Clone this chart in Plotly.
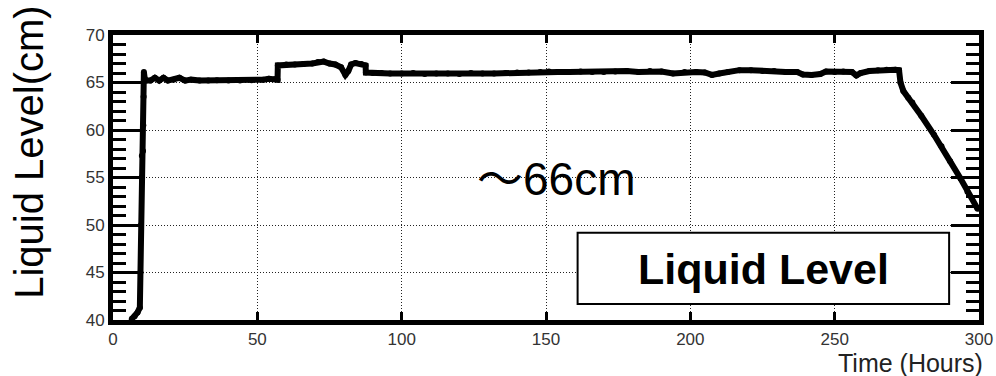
import plotly.graph_objects as go

# ---- data ----
hours = [6.5, 7.5, 8.5, 9.3, 9.5, 9.7, 9.9, 10.0, 10.4, 10.5, 10.6, 10.7, 11.0, 11.5,
         13, 14.5, 16, 17.5, 19, 21, 23, 25, 27, 30, 33, 36, 40, 44, 48, 52, 54, 56, 57.0,
         57.1, 60, 63, 66, 69, 71, 73, 75, 77, 79, 80.5, 81.5, 82.5, 84, 86, 87.5,
         87.6, 90, 93, 96, 100, 104, 108, 112, 116, 120, 124, 128, 132, 136, 140, 144,
         148, 151, 154, 158, 162, 166, 170, 174, 178, 182, 186, 190, 194, 198, 202, 205,
         207.5, 210, 213, 217, 221, 225, 229, 233, 237, 239, 242, 245, 247, 250, 253, 256,
         257.5, 259, 262, 265, 268, 271, 272.3,
         272.8, 273.8, 275.5, 276.9, 280, 284.4, 287, 290, 293.6, 296, 299.5]
level = [40.1, 40.4, 40.8, 41.3, 45, 50, 55, 57.3, 57.8, 60.5, 63.5, 66.1, 65.4, 65.2,
         65.2, 65.5, 65.2, 65.5, 65.2, 65.3, 65.5, 65.2, 65.3, 65.2, 65.2, 65.25, 65.2, 65.2,
         65.25, 65.3, 65.4, 65.35, 65.3,
         66.8, 66.9, 66.9, 66.95, 67.0, 67.15, 67.2, 67.0, 66.9, 66.6, 65.8, 66.2, 66.9,
         67.05, 66.95, 66.8,
         66.05, 66.0, 66.0, 65.95, 65.95, 66.0, 65.9, 65.95, 65.95, 65.9, 66.0, 65.95, 65.95,
         66.0, 66.05, 66.05, 66.1, 66.15, 66.1, 66.1, 66.15, 66.1, 66.1, 66.15, 66.2, 66.1,
         66.2, 66.15, 65.95, 66.1, 66.1, 66.05, 65.8, 65.95, 66.1, 66.3, 66.3, 66.2, 66.2,
         66.1, 66.1, 65.85, 65.8, 65.9, 66.15, 66.1, 66.15, 66.1, 65.75, 66.0, 66.2, 66.3,
         66.35, 66.35, 66.3,
         65.0, 64.1, 63.4, 62.9, 61.5, 59.5, 58.3, 56.7, 54.9, 53.5, 51.7]

x_range = [0, 300]
y_range = [40, 70]
x_title = "Time (Hours)"
y_title = "Liquid Level(cm)"
legend_label = "Liquid Level"
note_text = "～66cm"

FONT = "Liberation Sans, Arial, Helvetica, sans-serif"
TICK = "black"

fig = go.Figure()
fig.add_trace(go.Scatter(
    x=hours, y=level, mode="lines+markers",
    line=dict(color="black", width=6),
    marker=dict(color="black", size=6),
    showlegend=False, hoverinfo="skip"))

grid = dict(showgrid=True, gridcolor="#222", gridwidth=1, griddash="1px,2px")

fig.update_layout(
    template="none",
    width=996, height=376,
    margin=dict(l=113, r=17, t=35, b=56),
    paper_bgcolor="white", plot_bgcolor="white",
    font=dict(family=FONT, color="black"),
    xaxis=dict(range=x_range, tickmode="linear", tick0=0, dtick=50, ticks="inside",
               ticklen=8, tickwidth=3, tickcolor=TICK, mirror="ticks",
               showline=True, linewidth=5, linecolor="black", layer="above traces",
               zeroline=False, tickfont=dict(size=17, color="#333"), **grid),
    yaxis=dict(range=y_range, tickmode="linear", tick0=40, dtick=5, ticks="inside",
               ticklen=28, tickwidth=3, tickcolor=TICK, mirror="ticks",
               showline=True, linewidth=5, linecolor="black", layer="above traces",
               zeroline=False, tickfont=dict(size=17, color="#333"),
               minor=dict(ticks="inside", dtick=1, ticklen=13, tickwidth=3,
                          tickcolor=TICK, showgrid=False),
               **grid),
    shapes=[
        # legend box
        dict(type="rect", xref="paper", yref="paper", x0=0.5365, x1=0.9655,
             y0=0.0562, y1=0.3063, line=dict(color="black", width=2),
             fillcolor="white", layer="above"),
    ],
    annotations=[
        dict(text=legend_label, xref="paper", yref="paper", x=0.751, y=0.178,
             xanchor="center", yanchor="middle", showarrow=False,
             font=dict(size=43, family=FONT, color="black", weight="bold")),
        dict(text=note_text, xref="paper", yref="paper", x=0.512, y=0.495,
             xanchor="center", yanchor="middle", showarrow=False,
             font=dict(size=46, family="Liberation Sans, Noto Sans CJK JP, sans-serif",
                       color="black")),
        dict(text=y_title, xref="paper", yref="paper", x=-0.097, y=0.59,
             xanchor="center", yanchor="middle", textangle=-90, showarrow=False,
             font=dict(size=40, family=FONT, color="black")),
        dict(text=x_title, xref="paper", yref="paper", x=1.007, y=-0.15,
             xanchor="right", yanchor="middle", showarrow=False,
             font=dict(size=25, family=FONT, color="#222")),
    ],
)

fig.write_html("out.html")
